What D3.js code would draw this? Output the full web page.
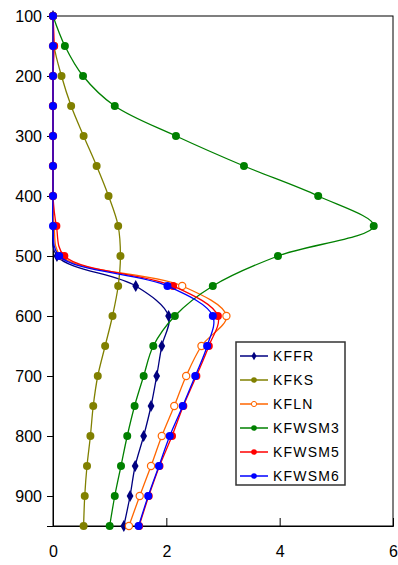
<!DOCTYPE html>
<html>
<head>
<meta charset="utf-8">
<script src="https://cdn.jsdelivr.net/npm/d3@7"></script>
<style>
  body { margin: 0; background: #fff; }
  text { font-family: "Liberation Sans", Arial, sans-serif; }
</style>
</head>
<body>
<div id="container"></div>
<script>
var levels = [100, 150, 200, 250, 300, 350, 400, 450, 500, 550, 600, 650, 700, 750, 800, 850, 900, 950];

var kffr   = [0, 0, 0, 0, 0, 0, 0, 0, 0.07, 1.46, 2.04, 1.92, 1.83, 1.73, 1.60, 1.45, 1.36, 1.25];
var kfks   = [0, 0.02, 0.15, 0.32, 0.54, 0.77, 0.98, 1.15, 1.19, 1.15, 1.05, 0.92, 0.79, 0.71, 0.66, 0.60, 0.56, 0.54];
var kfln   = [0, 0, 0, 0, 0, 0, 0, 0.02, 0.14, 2.28, 3.06, 2.62, 2.35, 2.14, 1.92, 1.73, 1.53, 1.34];
var kfwsm3 = [0, 0.21, 0.53, 1.09, 2.17, 3.37, 4.68, 5.66, 3.97, 2.82, 2.15, 1.77, 1.60, 1.44, 1.31, 1.20, 1.09, 1.00];
var kfwsm5 = [0, 0.02, 0, 0, 0, 0, 0, 0.06, 0.20, 2.12, 2.91, 2.75, 2.53, 2.30, 2.10, 1.88, 1.69, 1.52];
var kfwsm6 = [0, 0, 0, 0, 0, 0, 0, 0, 0.11, 2.02, 2.82, 2.72, 2.51, 2.29, 2.06, 1.87, 1.68, 1.51];

var xTicks = [0, 2, 4, 6];
var yTicks = [100, 200, 300, 400, 500, 600, 700, 800, 900];

var series = [
  {name: "KFFR",   values: kffr,   color: "#000080", marker: "diamond"},
  {name: "KFKS",   values: kfks,   color: "#808000", marker: "circle"},
  {name: "KFLN",   values: kfln,   color: "#FF6600", marker: "open"},
  {name: "KFWSM3", values: kfwsm3, color: "#008000", marker: "circle"},
  {name: "KFWSM5", values: kfwsm5, color: "#FF0000", marker: "circle"},
  {name: "KFWSM6", values: kfwsm6, color: "#0000FF", marker: "circle"}
];

var W = 398, H = 565;
var margin = {top: 16, right: 5, bottom: 39, left: 53};

var svg = d3.select("#container")
    .append("svg")
    .attr("width", W)
    .attr("height", H);

var x = d3.scaleLinear().domain([0, 6]).range([margin.left, W - margin.right]);
var y = d3.scaleLinear().domain([100, 950]).range([margin.top, H - margin.bottom]);

// plot frame
svg.append("rect")
    .attr("x", x(0))
    .attr("y", y(100))
    .attr("width", x(6) - x(0))
    .attr("height", y(950) - y(100))
    .attr("fill", "none")
    .attr("stroke", "#000")
    .attr("stroke-width", 1);

// axes
var xAxis = svg.append("g")
    .attr("transform", "translate(0," + y(950) + ")")
    .call(d3.axisBottom(x).tickValues(xTicks).tickSize(-8).tickPadding(20).tickFormat(d3.format("d")));
xAxis.selectAll("text").attr("font-size", 16).attr("fill", "#000");
xAxis.selectAll(".tick line").filter(function(d) { return d === 0 || d === 6; }).remove();

var yAxis = svg.append("g")
    .attr("transform", "translate(" + x(0) + ",0)")
    .call(d3.axisLeft(y).tickValues(yTicks).tickSize(6).tickPadding(5).tickFormat(d3.format("d")));
yAxis.selectAll("text").attr("font-size", 16).attr("fill", "#000");

svg.selectAll(".domain").attr("stroke", "#000");

var line = d3.line()
    .x(function(d) { return x(d[1]); })
    .y(function(d) { return y(d[0]); })
    .curve(d3.curveCatmullRom.alpha(0.5));

var diamond = d3.symbol().type(d3.symbolDiamond).size(40);

function drawMarker(g, s, cx, cy) {
  if (s.marker === "diamond") {
    g.append("path")
        .attr("d", diamond)
        .attr("transform", "translate(" + cx + "," + cy + ")")
        .attr("fill", s.color);
  } else if (s.marker === "open") {
    g.append("circle")
        .attr("cx", cx).attr("cy", cy).attr("r", 3.6)
        .attr("fill", "#fff")
        .attr("stroke", s.color)
        .attr("stroke-width", 1.2);
  } else {
    g.append("circle")
        .attr("cx", cx).attr("cy", cy).attr("r", 4)
        .attr("fill", s.color);
  }
}

series.forEach(function(s) {
  var pts = levels.map(function(p, i) { return [p, s.values[i]]; });
  var g = svg.append("g");
  g.append("path")
      .datum(pts)
      .attr("d", line)
      .attr("fill", "none")
      .attr("stroke", s.color)
      .attr("stroke-width", 1.3);
  pts.forEach(function(d) { drawMarker(g, s, x(d[1]), y(d[0])); });
});

// legend
var lg = svg.append("g").attr("transform", "translate(236,342)");
lg.append("rect")
    .attr("width", 109)
    .attr("height", 143)
    .attr("fill", "#fff")
    .attr("stroke", "#333")
    .attr("stroke-width", 1.5);

series.forEach(function(s, i) {
  var ly = 14 + i * 24;
  lg.append("line")
      .attr("x1", 4).attr("x2", 32)
      .attr("y1", ly).attr("y2", ly)
      .attr("stroke", s.color)
      .attr("stroke-width", 1.5);
  if (s.marker === "diamond") {
    lg.append("path").attr("d", d3.symbol().type(d3.symbolDiamond).size(22))
        .attr("transform", "translate(18," + ly + ")").attr("fill", s.color);
  } else if (s.marker === "open") {
    lg.append("circle").attr("cx", 18).attr("cy", ly).attr("r", 2.6)
        .attr("fill", "#fff").attr("stroke", s.color).attr("stroke-width", 1);
  } else {
    lg.append("circle").attr("cx", 18).attr("cy", ly).attr("r", 2.8).attr("fill", s.color);
  }
  lg.append("text")
      .attr("x", 37)
      .attr("y", ly + 5)
      .attr("font-size", 14)
      .attr("letter-spacing", 1.2)
      .attr("fill", "#000")
      .text(s.name);
});
</script>
</body>
</html>
